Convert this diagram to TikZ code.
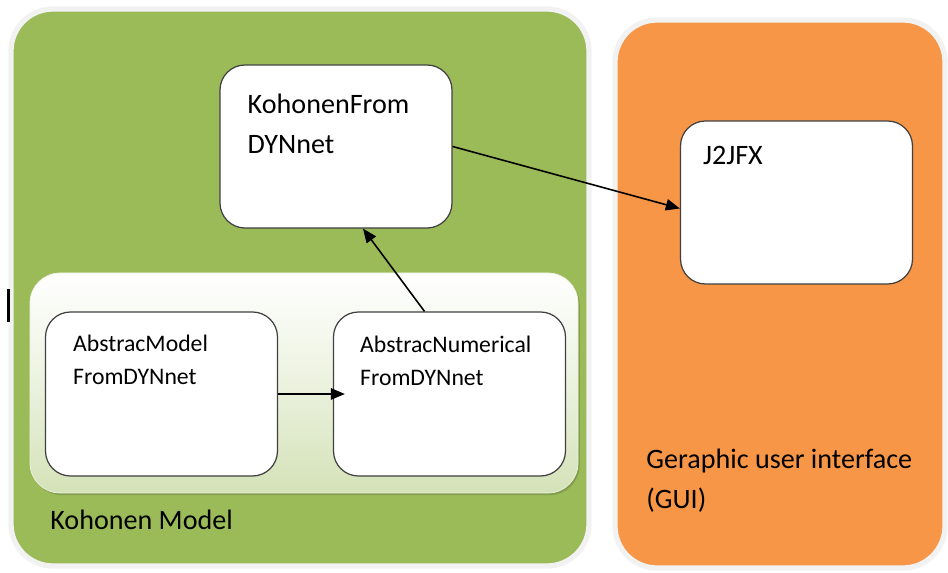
\documentclass[tikz,border=0pt]{standalone}
\usepackage{fontspec}
\setmainfont{Carlito}
\usetikzlibrary{arrows.meta, positioning, shadows}
\definecolor{panelgreen}{HTML}{9BBB59}
\definecolor{panelorange}{HTML}{F79646}
\definecolor{softgreen}{HTML}{D4E2B8}
\definecolor{rimgray}{HTML}{F2F2F2}
\definecolor{boxline}{HTML}{404040}
\tikzstyle{panel} = [rectangle, rounded corners=0.84cm, 
draw=rimgray, 
line width=3pt,
drop shadow={shadow xshift=0.8pt, shadow yshift=-0.9pt, opacity=0.3}]
\tikzstyle{box} = [rectangle, rounded corners=0.5cm, 
minimum width=4.64cm, 
minimum height=3.26cm,
draw=boxline, 
line width=0.7pt,
fill=white]
\tikzstyle{boxtext} = [align=left, inner sep=0pt, anchor=north west]
\tikzstyle{bigtext} = [font=\fontsize{16}{22.7}\selectfont]
\tikzstyle{smalltext} = [font=\fontsize{13.5}{18.7}\selectfont]
\tikzstyle{arrow} = [-{Triangle[length=8pt,width=6.5pt]},line width=0.9pt]

\begin{document}
\begin{tikzpicture}
		
		% page size
		\useasboundingbox (0,0) rectangle (18.96,11.46);
		
		% the two big panels
		\node[panel, fill=panelgreen, minimum width=11.56cm, minimum height=11.14cm] (modelpanel) at (6.0,5.71) {};
		\node[panel, fill=panelorange, minimum width=6.6cm, minimum height=10.96cm] (guipanel) at (15.6,5.58) {};
		
		% inner group
		\node[rectangle, rounded corners=0.6cm, minimum width=10.96cm, minimum height=4.4cm, top color=white, bottom color=softgreen, middle color=white!55!softgreen, draw=white!60!softgreen, drop shadow={shadow xshift=1pt, shadow yshift=-1.2pt, fill=panelgreen!65!black, opacity=0.45}] (group) at (6.08,3.8) {};
		
		\node[box] (kohonen) at (6.72,8.53) {};
		\node[box] (j2jfx) at (15.93,7.41) {};
		\node[box, minimum height=3.28cm] (model) at (3.23,3.58) {};
		\node[box, minimum height=3.28cm] (numer) at (8.99,3.58) {};
		
		\node[boxtext, bigtext] (kohonentext) at ([shift={(0.56,-0.58)}]kohonen.north west) {KohonenFrom\\DYNnet};
		\node[boxtext, bigtext] (j2jfxtext) at ([shift={(0.46,-0.52)}]j2jfx.north west) {J2JFX};
		\node[boxtext, smalltext] (modeltext) at ([shift={(0.56,-0.46)}]model.north west) {AbstracModel\\FromDYNnet};
		\node[boxtext, smalltext] (numertext) at ([shift={(0.54,-0.48)}]numer.north west) {AbstracNumerical\\FromDYNnet};
		
		\node[bigtext, anchor=base west, inner sep=0pt] (modellabel) at (1.0,0.86) {Kohonen Model};
		\node[boxtext, bigtext] (guilabel) at (12.92,2.48) {Geraphic user interface\\(GUI)};
		
		% stray bar at the left edge
		\coordinate (bartop) at (0.17,5.68);
		\coordinate (barbot) at (0.17,5.02);
		\draw[line width=1.2pt] (bartop) -- (barbot);
		
		\draw[arrow] (kohonen.east) -- ([yshift=-0.12cm]j2jfx.west);
		\draw[arrow] ([xshift=-0.5cm]numer.north) -- ([xshift=0.54cm]kohonen.south);
		\draw[arrow] (model.east) -- ([xshift=0.24cm]numer.west);
		
	\end{tikzpicture}
\end{document}
